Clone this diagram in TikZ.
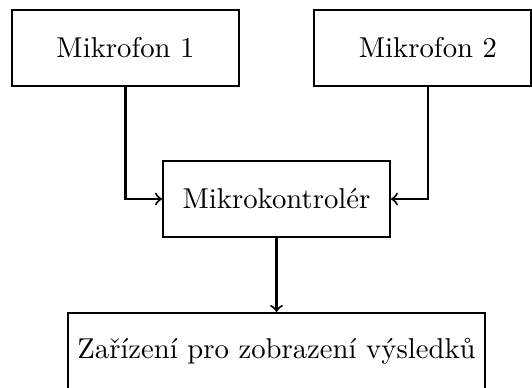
\documentclass[tikz,border=0pt]{standalone}
\begin{document}
\begin{tikzpicture}[x=0.3484pt,y=-0.3484pt,
  box/.style={draw, line width=0.7pt, minimum width={227*0.3484pt}, minimum height={76*0.3484pt}, inner sep=3.33pt},
  arr/.style={->, line width=0.7pt}]
\useasboundingbox (0,0) rectangle (532,387);
\node[box] (m1) at (125.5,48) {Mikrofon 1};
\node[box, minimum width={217*0.3484pt}] (m2) at (422.5,48) {\hspace{3.8pt}Mikrofon 2};
\node[box] (mk) at (276.5,199) {Mikrokontrolér};
\node[box] (out) at (276.5,351) {Zařízení pro zobrazení výsledků};
\coordinate (m2c) at (428,48);
\draw[arr] (m1.south) |- (mk.west);
\draw[arr] (m2c |- m2.south) |- (mk.east);
\draw[arr] (mk.south) -- (out.north);
\end{tikzpicture}
\end{document}
